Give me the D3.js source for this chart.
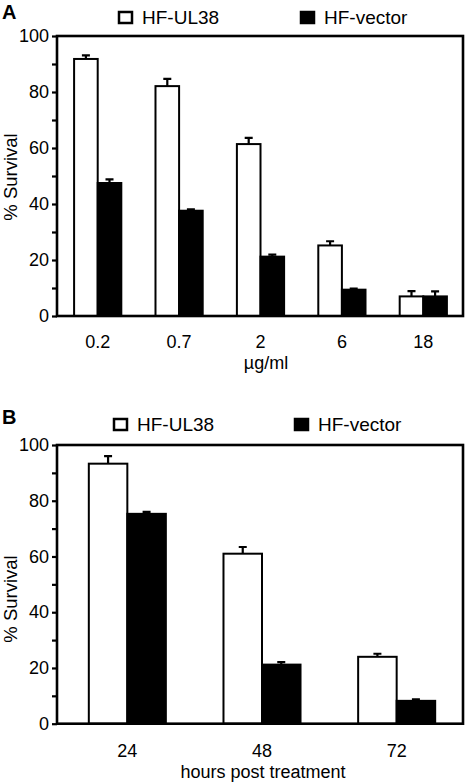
<!DOCTYPE html>
<html><head><meta charset="utf-8">
<script src="https://cdn.jsdelivr.net/npm/d3@7"></script>
<style>body{margin:0;background:#fff}text{font-family:"Liberation Sans",Arial,sans-serif}</style>
</head><body><svg id="c" width="466" height="784"></svg>
<script>
const seriesNames = ["HF-UL38", "HF-vector"];
const catsA = ["0.2", "0.7", "2", "6", "18"];
const ul38A = [91.8, 82.1, 61.4, 25.2, 7.0];
const ul38ErrA = [1.3, 2.6, 2.2, 1.5, 1.9];
const vecA = [47.5, 37.6, 21.2, 9.4, 7.0];
const vecErrA = [1.3, 0.5, 0.7, 0.4, 1.8];
const catsB = ["24", "48", "72"];
const ul38B = [93.3, 61.0, 24.0];
const ul38ErrB = [2.7, 2.4, 1.1];
const vecB = [75.3, 21.2, 8.2];
const vecErrB = [0.7, 0.9, 0.5];
const yTicks = [0, 10, 20, 30, 40, 50, 60, 70, 80, 90, 100];

const svg = d3.select("#c");

function panel(cfg) {
  const g = svg.append("g");
  const x = d3.scaleBand().domain(cfg.cats).range([cfg.x0, cfg.x1])
    .paddingInner(cfg.pin).paddingOuter(cfg.pin / 2);
  const xs = d3.scaleBand().domain([0, 1]).range([0, x.bandwidth()]);
  const y = d3.scaleLinear().domain([0, 100]).range([cfg.yb, cfg.yt]);

  const data = [];
  cfg.cats.forEach((c, i) => {
    data.push({c, s: 0, v: cfg.a[i], e: cfg.ae[i]});
    data.push({c, s: 1, v: cfg.b[i], e: cfg.be[i]});
  });
  g.selectAll(".eb").data(data).enter().append("path")
    .attr("d", d => {
      const cx = x(d.c) + xs(d.s) + xs.bandwidth() / 2;
      const y0 = y(d.v), y1 = y(d.v + d.e);
      return `M${cx},${y0}V${y1}M${cx - 4},${y1}H${cx + 4}`;
    })
    .attr("stroke", "#000").attr("stroke-width", 2.2).attr("fill", "none");
  g.selectAll(".bar").data(data).enter().append("rect")
    .attr("x", d => x(d.c) + xs(d.s))
    .attr("width", xs.bandwidth())
    .attr("y", d => y(d.v))
    .attr("height", d => y(0) - y(d.v))
    .attr("fill", d => d.s === 0 ? "#fff" : "#000")
    .attr("stroke", "#000").attr("stroke-width", 2);

  g.append("rect").attr("x", cfg.fx0).attr("y", cfg.yt)
    .attr("width", cfg.fx1 - cfg.fx0).attr("height", cfg.yb - cfg.yt)
    .attr("fill", "none").attr("stroke", "#000").attr("stroke-width", 2.6);

  const ya = g.append("g").attr("transform", `translate(${cfg.fx0},0)`)
    .call(d3.axisLeft(y).tickValues(yTicks).tickSize(5).tickPadding(3)
      .tickFormat(d => d % 20 === 0 ? d : ""));
  ya.select(".domain").remove();
  ya.selectAll(".tick line").attr("stroke-width", 2.2);
  ya.selectAll("text").attr("font-size", 18).attr("fill", "#000")
    .attr("font-family", "Liberation Sans, Arial, sans-serif");

  g.selectAll(".xl").data(cfg.cats).enter().append("text")
    .attr("x", d => x(d) + x.bandwidth() / 2).attr("y", cfg.xly)
    .attr("text-anchor", "middle").attr("font-size", 18).text(d => d);
  g.append("text").attr("x", cfg.xtx).attr("y", cfg.xty)
    .attr("text-anchor", "middle").attr("font-size", 18).text(cfg.xtitle);
  g.append("text").attr("transform", `translate(${cfg.ytx},${cfg.yty}) rotate(-90)`)
    .attr("text-anchor", "middle").attr("font-size", 18.5).text("% Survival");

  g.append("text").attr("x", 2).attr("y", cfg.ly).attr("font-size", 20)
    .attr("font-weight", "bold").text(cfg.letter);

  const lg = g.selectAll(".lg").data(seriesNames).enter().append("g")
    .attr("transform", (d, i) => `translate(${cfg.legX[i]},${cfg.legY})`);
  lg.append("rect").attr("x", 1).attr("y", -12).attr("width", 13).attr("height", 11)
    .attr("fill", (d, i) => i === 0 ? "#fff" : "#000")
    .attr("stroke", "#000").attr("stroke-width", 2.5);
  lg.append("text").attr("x", 24).attr("y", 0).attr("font-size", 19).text(d => d);
}

panel({
  letter: "A", ly: 19, cats: catsA, a: ul38A, ae: ul38ErrA, b: vecA, be: vecErrA,
  x0: 57, x1: 464, pin: 0.42, fx0: 57, fx1: 463, yt: 36, yb: 316,
  xly: 348, xtitle: "µg/ml", xtx: 266, xty: 369, ytx: 17, yty: 177,
  legX: [118, 300], legY: 24
});
panel({
  letter: "B", ly: 424, cats: catsB, a: ul38B, ae: ul38ErrB, b: vecB, be: vecErrB,
  x0: 60, x1: 464, pin: 0.428, fx0: 57, fx1: 463, yt: 445, yb: 723.7,
  xly: 757, xtitle: "hours post treatment", xtx: 263, xty: 778, ytx: 17, yty: 599,
  legX: [113, 294], legY: 431
});
</script></body></html>
